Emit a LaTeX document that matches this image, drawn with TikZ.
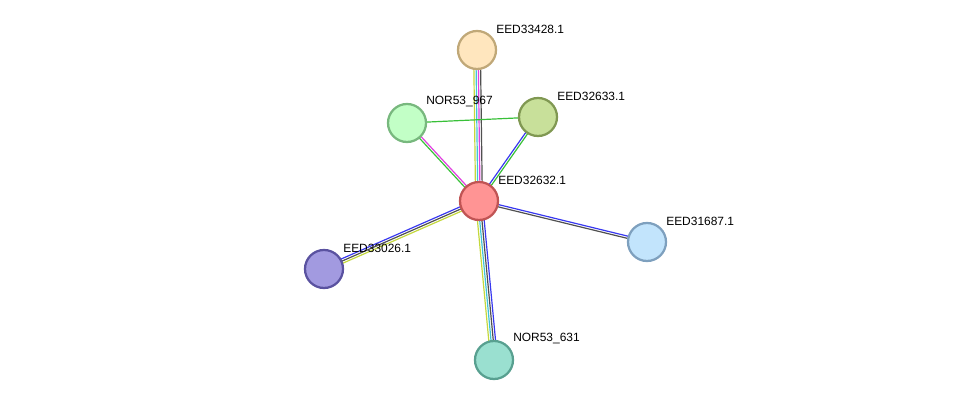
\documentclass[tikz,border=0pt]{standalone}
\usepackage{fontspec}
\setmainfont{Liberation Sans}
\usetikzlibrary{calc,backgrounds}
% node fills / borders
\definecolor{fcen}{HTML}{FF9494}\definecolor{dcen}{HTML}{C05454}
\definecolor{ftop}{HTML}{FFE6BE}\definecolor{dtop}{HTML}{C0A878}
\definecolor{fnra}{HTML}{C2FFC6}\definecolor{dnra}{HTML}{78B87E}
\definecolor{fsec}{HTML}{C8E09A}\definecolor{dsec}{HTML}{809852}
\definecolor{frgt}{HTML}{C2E4FC}\definecolor{drgt}{HTML}{7EA0BE}
\definecolor{flft}{HTML}{A29AE0}\definecolor{dlft}{HTML}{5A52A0}
\definecolor{fbot}{HTML}{9AE0D0}\definecolor{dbot}{HTML}{58A090}
% evidence channels
\definecolor{eyel}{HTML}{C4D83C}\definecolor{ecya}{HTML}{40C4D8}
\definecolor{emag}{HTML}{E040E0}\definecolor{egry}{HTML}{505050}
\definecolor{eblu}{HTML}{3838F0}\definecolor{egrn}{HTML}{38C038}
\begin{document}
\begin{tikzpicture}[x=0.025cm,y=-0.025cm,
  prot/.style={circle,draw,line width=1.6pt,minimum size=0.95cm,inner sep=0pt},
  lab/.style={font=\fontsize{8.5}{10}\selectfont,anchor=west,inner sep=0pt},
  ln/.style={line width=0.85pt}]
\useasboundingbox (0,0) rectangle (976,406);
% ---- proteins and their names
\foreach \n/\x/\y/\f/\d/\t in {cen/479/201/fcen/dcen/EED32632.1,
    e3428/477/50/ftop/dtop/EED33428.1, n967/407/123/fnra/dnra/NOR53\_967,
    e2633/538/117/fsec/dsec/EED32633.1, e1687/647/242/frgt/drgt/EED31687.1,
    e3026/324/269/flft/dlft/EED33026.1, n631/494/360/fbot/dbot/NOR53\_631}{
  \node[prot,fill=\f,draw=\d] (\n) at (\x,\y) {};
  \node[lab] (\n-l) at (\x+19,\y-21) {\t};
}
% ---- interactions, one line per channel
\begin{scope}[on background layer]
 \foreach \b/\cols in {e3428/{eyel/3,ecya/1,emag/-1,egry/-3},
     n967/{egrn/1,emag/-1}, e2633/{eblu/1,egrn/-1}, e1687/{eblu/1,egry/-1},
     e3026/{eyel/2,egry/0,eblu/-2}, n631/{eblu/3,egry/1,ecya/-1,eyel/-3}}{
  \foreach \c/\o in \cols{
   \draw[ln,\c] ($(cen.center)!\o*0.8pt!90:(\b.center)$) -- ($(\b.center)!\o*0.8pt!-90:(cen.center)$);}
 }
 \draw[ln,egrn] (n967.center) -- (e2633.center);
\end{scope}
\end{tikzpicture}
\end{document}
